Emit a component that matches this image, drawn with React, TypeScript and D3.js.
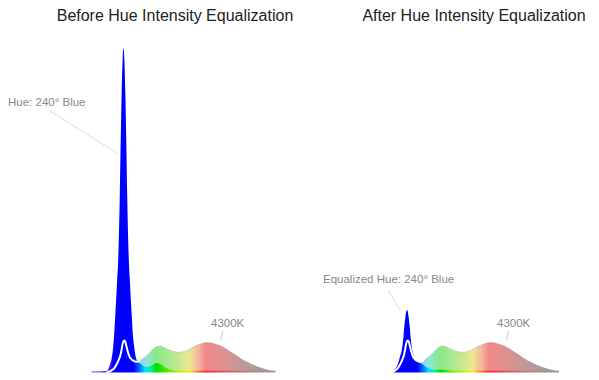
import React from "react";
import * as d3 from "d3";

// wavelength grid (nm)
const wavelengths = [380, 390, 400, 410, 415, 420, 424, 427, 430, 432, 434, 436, 438, 440, 442, 444, 446, 448, 450, 452, 454, 456, 458, 460, 462, 464, 466, 468, 470, 473, 476, 480, 485, 490, 500, 510, 520, 530, 540, 550, 560, 570, 580, 590, 600, 610, 620, 630, 640, 650, 660, 670, 680, 690, 700, 710, 720, 730, 740, 750, 760, 770, 780];

// 4300K LED spectrum (relative intensity, same scale as hue intensity)
const spectrum4300K = [0, 0, 0, 0, 0, 0.15, 0.5, 0.8, 1.2, 1.6, 2.1, 2.6, 3.2, 3.9, 4.6, 5.6, 7, 8.6, 9.5, 9.7, 9.3, 8.2, 7, 6, 5.1, 4.5, 4.1, 3.8, 3.6, 3.4, 3.2, 3.2, 3.4, 3.9, 5, 6.4, 7.7, 8, 7.4, 6.8, 6.3, 6.1, 6.3, 6.8, 7.6, 8.3, 8.8, 9.1, 9, 8.6, 8.2, 7.4, 6.5, 5.6, 4.6, 3.7, 3, 2.3, 1.7, 1.2, 0.8, 0.45, 0.2];

// hue intensity before equalization
const hueBefore = [0.25, 0.25, 0.25, 0.3, 0.5, 2, 4, 7, 12.3, 17.3, 22.2, 27.8, 33, 42, 55, 72, 86, 96, 100, 96, 86, 72, 55, 42, 33, 27.8, 22.2, 17.3, 12.3, 8, 5.2, 3.4, 2.8, 2.2, 1.5, 1.9, 2.8, 2.5, 1.5, 0.9, 0.5, 0.4, 0.4, 0.4, 0.4, 0.4, 0.4, 0.4, 0.4, 0.4, 0.4, 0.4, 0.4, 0.4, 0.4, 0.4, 0.4, 0.4, 0.4, 0.4, 0.4, 0.4, 0.4];

// hue intensity after equalization
const hueAfter = [null, null, null, null, null, 0.4, 0.9, 1.5, 2.4, 3.3, 4.3, 5.3, 6.3, 8, 10.5, 13.8, 16.4, 18.4, 19.1, 18.4, 16.4, 13.8, 10.5, 8, 6.3, 5.3, 4.4, 3.8, 3.4, 3.2, 3.1, 2.7, 2.2, 1.7, 1, 0.7, 0.7, 0.7, 0.5, 0.4, 0.4, 0.4, 0.4, 0.4, 0.4, 0.4, 0.4, 0.4, 0.4, 0.4, 0.4, 0.4, 0.4, 0.4, 0.4, 0.4, 0.4, 0.4, 0.4, 0.4, 0.4, 0.4, 0.4];

const titles = ["Before Hue Intensity Equalization", "After Hue Intensity Equalization"];
const hueLabels = ["Hue: 240° Blue", "Equalized Hue: 240° Blue"];
const cctLabel = "4300K";

// colour stops (nm -> colour)
const saturatedStops: [number, string][] = [
  [380, "#a070ff"], [410, "#6a30ff"], [430, "#0000ff"], [472, "#0000ff"], [485, "#0070ff"],
  [497, "#00e0ff"], [510, "#00f090"], [522, "#00dd00"], [560, "#90f000"], [592, "#ffee00"],
  [626, "#ff2020"], [670, "#e05060"], [730, "#b08888"], [780, "#999999"],
];
const pastelStops: [number, string][] = [
  [380, "#9090ff"], [470, "#8fa8ff"], [485, "#8cd8f0"], [500, "#8ee8d0"], [522, "#88e888"],
  [560, "#b8e890"], [592, "#ece890"], [612, "#f4b8a0"], [628, "#f28888"], [665, "#e09090"],
  [705, "#c49898"], [745, "#a89c9c"], [780, "#a0a0a0"],
];

const PX_PER_NM = 0.46;
const W = 599;
const H = 380;
const y = d3.scaleLinear().domain([0, 100]).range([372, 48]);

type Pt = { w: number; s: number; h: number | null };

function Panel(props: {
  id: string;
  spikeX: number;
  hue: (number | null)[];
  title: string;
  titleX: number;
  hueLabel: string;
  hueLabelPos: [number, number];
  hueLeader: [number, number, number, number];
  cctPos: [number, number];
  cctLeader: [number, number, number, number];
}) {
  const { id, spikeX, hue } = props;
  const x = d3.scaleLinear().domain([450, 780]).range([spikeX, spikeX + 330 * PX_PER_NM]);
  const pts: Pt[] = wavelengths.map((w, i) => ({ w, s: spectrum4300K[i], h: hue[i] }));
  const x0 = x(380);
  const x1 = x(780);
  const off = (w: number) => `${((w - 380) / 400) * 100}%`;

  const specArea = d3
    .area<Pt>()
    .x((d) => x(d.w))
    .y0(y(0))
    .y1((d) => y(d.s))
    .curve(d3.curveMonotoneX)(pts.filter((d) => d.w >= 415));
  const hueArea = d3
    .area<Pt>()
    .defined((d) => d.h != null)
    .x((d) => x(d.w))
    .y0(y(0) + 0.5)
    .y1((d) => y(d.h as number))
    .curve(d3.curveMonotoneX)(pts);
  const line = d3
    .line<Pt>()
    .x((d) => x(d.w))
    .y((d) => y(d.s))
    .curve(d3.curveMonotoneX);
  const whitePath = line(pts.filter((d) => d.w >= 415 && d.w <= 485));
  const outlinePath = line(pts.filter((d) => d.w >= 485));

  return (
    <g>
      <defs>
        <linearGradient id={`sat-${id}`} gradientUnits="userSpaceOnUse" x1={x0} x2={x1} y1={0} y2={0}>
          {saturatedStops.map(([w, c]) => (
            <stop key={w} offset={off(w)} stopColor={c} />
          ))}
        </linearGradient>
        <linearGradient id={`pas-${id}`} gradientUnits="userSpaceOnUse" x1={x0} x2={x1} y1={0} y2={0}>
          {pastelStops.map(([w, c]) => (
            <stop key={w} offset={off(w)} stopColor={c} />
          ))}
        </linearGradient>
      </defs>
      <text x={props.titleX} y={21} textAnchor="middle" fontSize={16} fill="#222">
        {props.title}
      </text>
      <path d={specArea || ""} fill={`url(#pas-${id})`} />
      <path d={outlinePath || ""} fill="none" stroke="#999" strokeWidth={0.6} strokeDasharray="1,1" />
      <path d={hueArea || ""} fill={`url(#sat-${id})`} />
      <path d={whitePath || ""} fill="none" stroke="#fff" strokeWidth={2} strokeLinecap="round" />
      <line
        x1={props.hueLeader[0]} y1={props.hueLeader[1]} x2={props.hueLeader[2]} y2={props.hueLeader[3]}
        stroke="#d0d0d0" strokeWidth={0.8}
      />
      <text x={props.hueLabelPos[0]} y={props.hueLabelPos[1]} fontSize={11.5} fill="#888">
        {props.hueLabel}
      </text>
      <line
        x1={props.cctLeader[0]} y1={props.cctLeader[1]} x2={props.cctLeader[2]} y2={props.cctLeader[3]}
        stroke="#bbb" strokeWidth={0.8}
      />
      <text x={props.cctPos[0]} y={props.cctPos[1]} fontSize={11.5} fill="#888">
        {cctLabel}
      </text>
    </g>
  );
}

export default function App() {
  return (
    <svg
      width={W}
      height={H}
      style={{ position: "absolute", left: 0, top: 0, background: "#fff" }}
      fontFamily="'Liberation Sans', Arial, Helvetica, sans-serif"
    >
      <rect width={W} height={H} fill="#fff" />
      <Panel
        id="before"
        spikeX={123.5}
        hue={hueBefore}
        title={titles[0]}
        titleX={175}
        hueLabel={hueLabels[0]}
        hueLabelPos={[8, 106]}
        hueLeader={[50, 111, 117, 153]}
        cctPos={[211, 327]}
        cctLeader={[223, 331, 220.5, 340]}
      />
      <Panel
        id="after"
        spikeX={407}
        hue={hueAfter}
        title={titles[1]}
        titleX={474}
        hueLabel={hueLabels[1]}
        hueLabelPos={[323, 283]}
        hueLeader={[388, 290, 400, 310]}
        cctPos={[497, 327]}
        cctLeader={[508.5, 331, 506.5, 340]}
      />
    </svg>
  );
}
